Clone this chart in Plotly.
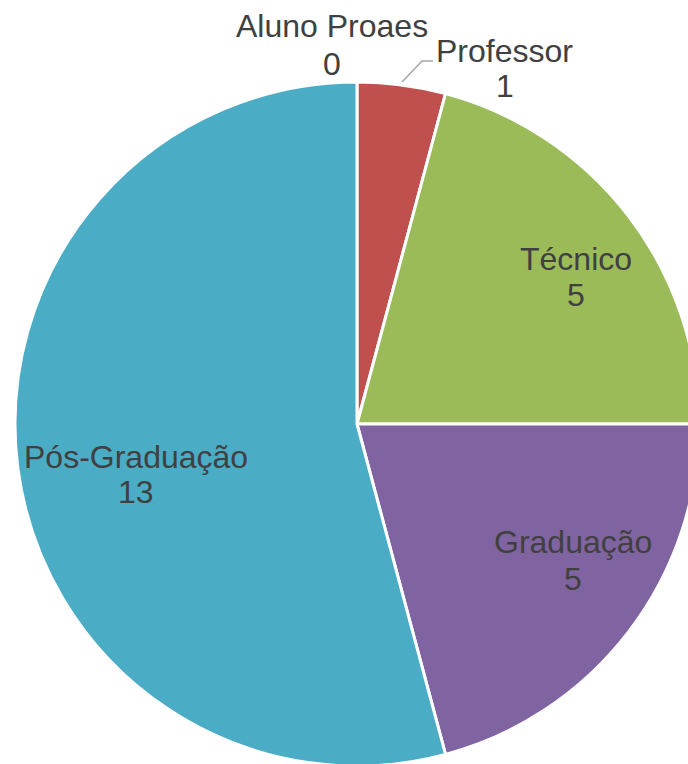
import plotly.graph_objects as go

categories = ["Aluno Proaes", "Professor", "Técnico", "Graduação", "Pós-Graduação"]
values = [0, 1, 5, 5, 13]
colors = ["#4F81BD", "#C0504D", "#9BBB59", "#8064A2", "#4BACC6"]

W, H = 720, 780          # canvas slightly larger than the 688x764 window (pie is cropped)
CX, CY, R = 357, 424, 342  # pie centre / radius in pixels

def px(x):
    return x / W

def py(y):
    return 1 - y / H

fig = go.Figure(go.Pie(
    labels=categories,
    values=values,
    sort=False,
    direction="clockwise",
    rotation=0,
    marker=dict(colors=colors, line=dict(color="white", width=3)),
    textinfo="none",
    hoverinfo="label+value",
    showlegend=False,
    domain=dict(x=[px(CX - R), px(CX + R)], y=[py(CY + R), py(CY - R)]),
))

# label placement (pixel centres of name line and value line)
label_pos = {
    "Aluno Proaes": (332, 26, 64),
    "Professor": (505, 51, 86),
    "Técnico": (576, 259, 295),
    "Graduação": (573, 542, 579),
    "Pós-Graduação": (136, 457, 492),
}
font = dict(family="Liberation Sans, Arial, sans-serif", size=32, color="#404040")
annotations = []
for name, val in zip(categories, values):
    x, y1, y2 = label_pos[name]
    annotations.append(dict(x=px(x), y=py(y1), xref="paper", yref="paper", text=name,
                            showarrow=False, xanchor="center", yanchor="middle", font=font))
    annotations.append(dict(x=px(x), y=py(y2), xref="paper", yref="paper", text=str(val),
                            showarrow=False, xanchor="center", yanchor="middle", font=font))

# leader line for the small "Professor" slice
leader = f"M {px(402)} {py(82)} L {px(422)} {py(61)} L {px(433)} {py(61)}"

fig.update_layout(
    width=W, height=H,
    margin=dict(l=0, r=0, t=0, b=0),
    paper_bgcolor="white",
    plot_bgcolor="white",
    annotations=annotations,
    shapes=[dict(type="path", path=leader, xref="paper", yref="paper",
                 line=dict(color="#A6A6A6", width=1.5))],
)

fig.write_html(
    "out.html",
    config={"displayModeBar": False},
    post_script="document.body.style.margin='0';document.body.style.overflow='hidden';",
)
